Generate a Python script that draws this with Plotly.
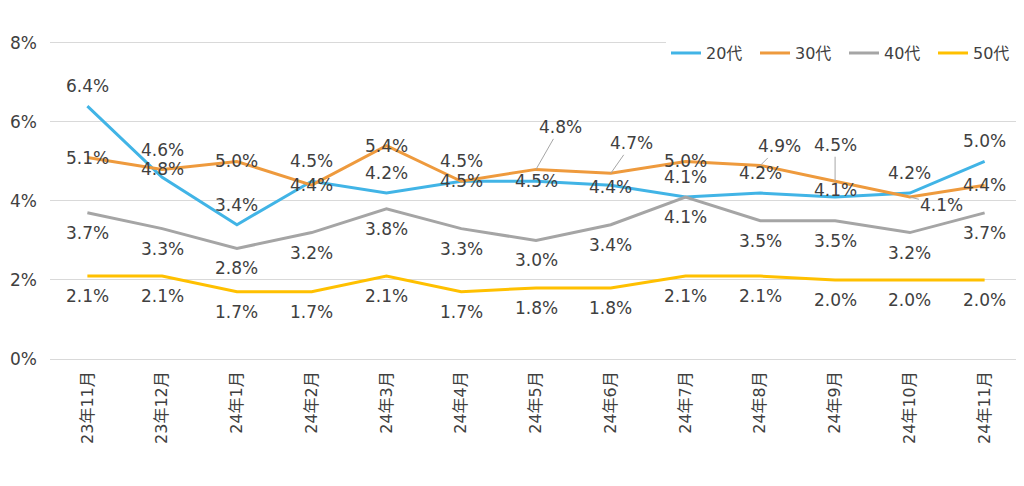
import plotly.graph_objects as go

MONTHS = ["23年11月", "23年12月", "24年1月", "24年2月", "24年3月", "24年4月", "24年5月",
          "24年6月", "24年7月", "24年8月", "24年9月", "24年10月", "24年11月"]
AGE20 = [6.4, 4.6, 3.4, 4.5, 4.2, 4.5, 4.5, 4.4, 4.1, 4.2, 4.1, 4.2, 5.0]
AGE30 = [5.1, 4.8, 5.0, 4.4, 5.4, 4.5, 4.8, 4.7, 5.0, 4.9, 4.5, 4.1, 4.4]
AGE40 = [3.7, 3.3, 2.8, 3.2, 3.8, 3.3, 3.0, 3.4, 4.1, 3.5, 3.5, 3.2, 3.7]
AGE50 = [2.1, 2.1, 1.7, 1.7, 2.1, 1.7, 1.8, 1.8, 2.1, 2.1, 2.0, 2.0, 2.0]

BLUE, ORANGE, GRAY, YELLOW = "#41b4e6", "#ee9a3d", "#a5a5a5", "#ffc000"
INK, GRID = "#404040", "#d9d9d9"
FONT = "DejaVu Sans, Noto Sans CJK JP, sans-serif"

# vertical label offsets (px) per point, tuned to the Excel layout
SHIFT20 = [20, 27, 20, 20, 20, 20, 0, -2, 20, 20, 7, 20, 20]
SHIFT30 = [0] * 13
SHIFT40 = [-20] * 13
SHIFT50 = [-20] * 13

# 30代 labels pulled off the line with leader lines: index -> (dx, dy)
LEADERS = {6: (24, -42), 7: (21, -30), 9: (19, -19), 10: (0, -36), 11: (32, 8)}

fig = go.Figure()
series = [
    ("20代", AGE20, BLUE, SHIFT20),
    ("30代", AGE30, ORANGE, SHIFT30),
    ("40代", AGE40, GRAY, SHIFT40),
    ("50代", AGE50, YELLOW, SHIFT50),
]
for name, vals, color, _ in series:
    fig.add_trace(
        go.Scatter(
            x=MONTHS,
            y=vals,
            name=name,
            mode="lines",
            line=dict(color=color, width=3),
            hovertemplate="%{x}: %{y:.1f}%<extra>" + name + "</extra>",
        )
    )

label_font = dict(size=17, color=INK, family=FONT)
for name, vals, _, shifts in series:
    for i, v in enumerate(vals):
        if name == "30代" and i in LEADERS:
            dx, dy = LEADERS[i]
            fig.add_annotation(
                x=MONTHS[i], y=v, text=f"{v:.1f}%", showarrow=True,
                arrowhead=0, arrowwidth=1, arrowcolor="#a6a6a6",
                ax=dx, ay=dy, font=label_font,
            )
        else:
            fig.add_annotation(
                x=MONTHS[i], y=v, text=f"{v:.1f}%", showarrow=False,
                yshift=shifts[i], font=label_font,
            )

# page body adds an 8px offset, so the figure is sized to fit inside the window
fig.update_layout(
    width=1016,
    height=478,
    paper_bgcolor="white",
    plot_bgcolor="white",
    margin=dict(l=42, r=2, t=33, b=127),
    font=dict(family=FONT, color=INK, size=16),
    showlegend=True,
    legend=dict(
        orientation="h",
        x=1.0,
        xanchor="right",
        y=0.962,
        yanchor="middle",
        bgcolor="white",
        font=dict(size=16, color=INK, family=FONT),
        itemwidth=30,
        entrywidth=44,
    ),
)
fig.update_xaxes(
    range=[-0.5, 12.5],
    tickangle=-90,
    tickfont=dict(size=16, color=INK),
    showgrid=False,
    showline=False,
    ticks="",
    ticklabelstandoff=8,
    automargin=False,
)
fig.update_yaxes(
    range=[0, 8.05],  # small headroom so the 8% gridline is drawn
    dtick=2,
    ticksuffix="%",
    gridcolor=GRID,
    gridwidth=1,
    zeroline=True,
    zerolinecolor=GRID,
    zerolinewidth=1,
    tickfont=dict(size=17, color=INK),
    ticklabelstandoff=12,
    automargin=False,
)

fig.write_html("out.html")
